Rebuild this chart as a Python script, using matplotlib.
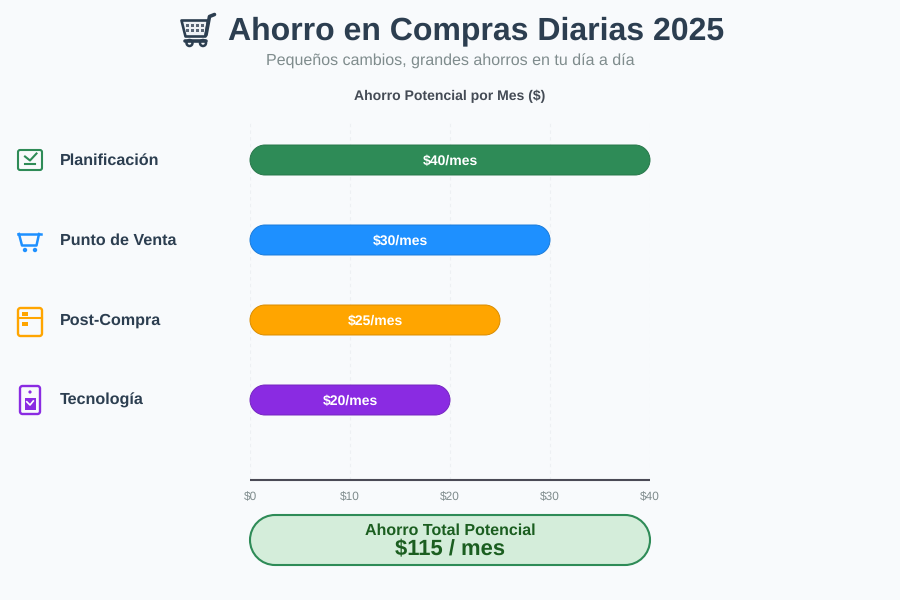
import matplotlib
matplotlib.use("Agg")
import matplotlib.pyplot as plt
from matplotlib.patches import PathPatch, Rectangle, Circle, Polygon
from matplotlib.path import Path

plt.rcParams['font.family'] = ['Liberation Sans', 'DejaVu Sans']
plt.rcParams['text.hinting'] = 'no_hinting'

categories = ["Planificación", "Punto de Venta", "Post-Compra", "Tecnología"]
savings = [40, 30, 25, 20]
bar_colors = ["#2e8b57", "#1e90ff", "#ffa500", "#8a2be2"]
edge_colors = ["#27774a", "#1a7bd9", "#d98c00", "#7525c0"]
ticks = [0, 10, 20, 30, 40]
tick_labels = ["$0", "$10", "$20", "$30", "$40"]

dark = "#2c3e50"
grey = "#7f8c8d"
bg = "#f8fafc"


def round_box(x, y, w, h, rx, ry, **kw):
    # real circular corners, the Round boxstyle looks too square
    k = 0.5523
    verts = [(x + rx, y), (x + w - rx, y),
             (x + w - rx + k * rx, y), (x + w, y + ry - k * ry), (x + w, y + ry),
             (x + w, y + h - ry),
             (x + w, y + h - ry + k * ry), (x + w - rx + k * rx, y + h), (x + w - rx, y + h),
             (x + rx, y + h),
             (x + rx - k * rx, y + h), (x, y + h - ry + k * ry), (x, y + h - ry),
             (x, y + ry),
             (x, y + ry - k * ry), (x + rx - k * rx, y), (x + rx, y),
             (x + rx, y)]
    codes = [Path.MOVETO, Path.LINETO,
             Path.CURVE4, Path.CURVE4, Path.CURVE4,
             Path.LINETO,
             Path.CURVE4, Path.CURVE4, Path.CURVE4,
             Path.LINETO,
             Path.CURVE4, Path.CURVE4, Path.CURVE4,
             Path.LINETO,
             Path.CURVE4, Path.CURVE4, Path.CURVE4,
             Path.CLOSEPOLY]
    return PathPatch(Path(verts, codes), **kw)


fig = plt.figure(figsize=(9, 6), dpi=100, facecolor=bg)

# overlay in pixel coords for title, icons and the total box
page = fig.add_axes([0, 0, 1, 1])
page.set_xlim(0, 900)
page.set_ylim(600, 0)
page.axis("off")

# chart area: x 250-650 px, y 120-480 px
ax = fig.add_axes([250 / 900, 120 / 600, 400 / 900, 360 / 600])
ax.patch.set_alpha(0)
ax.set_xlim(0, 40)
ax.set_ylim(4, -0.5)
for s in ["top", "left", "right"]:
    ax.spines[s].set_visible(False)
ax.spines["bottom"].set_color("#4a4a55")
ax.spines["bottom"].set_linewidth(1.5)
ax.spines["bottom"].set_capstyle("butt")
ax.set_yticks([])
ax.set_xticks(ticks)
ax.set_xticklabels(tick_labels, fontsize=8.6, color=grey)
ax.tick_params(axis="x", length=0, pad=8)
ax.grid(axis="x", color="#edf0f3", linewidth=0.8, linestyle=(0, (3, 3)))
ax.set_axisbelow(True)

# bars
for i, v in enumerate(savings):
    ax.add_patch(round_box(0, i - 0.1875, v, 0.375, 1.5, 0.1875,
                           facecolor=bar_colors[i], edgecolor=edge_colors[i],
                           linewidth=0.7, clip_on=False, zorder=3))
    ax.text(v / 2, i + 0.012, "$%d/mes" % v, color="white", fontsize=10.1,
            fontweight="bold", ha="center", va="center", zorder=4)

# titles
page.text(476, 31.5, "Ahorro en Compras Diarias 2025", fontsize=23, fontweight="bold",
          color=dark, ha="center", va="center")
page.text(450, 61, "Pequeños cambios, grandes ahorros en tu día a día", fontsize=11.5,
          color=grey, ha="center", va="center")
page.text(450, 96.5, "Ahorro Potencial por Mes ($)", fontsize=10.1, fontweight="bold",
          color="#444b55", ha="center", va="center")

# cart emoji
page.plot([214.5, 209.5, 206], [14.5, 16.5, 35], color=dark, lw=2.6, solid_capstyle="round")
page.add_patch(Polygon([[181.5, 20.5], [208, 20.5], [205.5, 36.5], [185.5, 36.5]], closed=True,
                       facecolor="#eef1f5", edgecolor=dark, lw=1.9, joinstyle="round"))
for x in [187, 192, 197, 202]:
    page.add_patch(Rectangle((x - 1.5, 23.5), 3.6, 3, color="#5a6675", lw=0))
    page.add_patch(Rectangle((x - 1, 28.5), 3.4, 3, color="#5a6675", lw=0))
page.plot([185, 206], [40.5, 40.5], color=dark, lw=2.6, solid_capstyle="round")
page.add_patch(Circle((189.5, 43), 3, facecolor=bg, edgecolor=dark, lw=1.8))
page.add_patch(Circle((203, 43), 3, facecolor=bg, edgecolor=dark, lw=1.8))

# category labels
for i, name in enumerate(categories):
    page.text(60, 160.5 + i * 80, name, fontsize=11.6, fontweight="bold", color=dark,
              ha="left", va="center")

# icon 1: planning
c = bar_colors[0]
page.add_patch(round_box(18, 150, 24, 20, 2, 2, facecolor="none", edgecolor=c, lw=1.5))
page.plot([25, 30, 36.5], [156.5, 160.5, 153.5], color=c, lw=1.5)
page.plot([25, 35], [164, 164], color=c, lw=1.5)

# icon 2: cart
c = bar_colors[1]
page.plot([17.5, 40.5], [234, 234], color=c, lw=1.8)
page.plot([19, 22, 36.5, 39], [234, 245.5, 245.5, 234], color=c, lw=1.8)
page.add_patch(Circle((25, 250), 2.2, color=c, lw=0))
page.add_patch(Circle((35, 250), 2.2, color=c, lw=0))

# icon 3: fridge / list
c = bar_colors[2]
page.add_patch(round_box(18, 308, 24, 28, 2.5, 2.5, facecolor="none", edgecolor=c, lw=1.7))
page.plot([18, 42], [318, 318], color=c, lw=1.5)
page.add_patch(Rectangle((22, 312), 6, 4, color=c, lw=0))
page.add_patch(Rectangle((22, 322), 6, 4, color=c, lw=0))

# icon 4: phone
c = bar_colors[3]
page.add_patch(round_box(20, 386, 20, 28, 2.5, 2.5, facecolor="none", edgecolor=c, lw=1.7))
page.add_patch(Circle((30, 392), 1.6, color=c, lw=0))
page.add_patch(Rectangle((24.5, 398), 11, 12, color=c, lw=0))
page.plot([26.8, 30, 33.3], [401.8, 405, 401], color="white", lw=1.2)

# total box
page.add_patch(round_box(250, 515, 400, 50, 25, 25, facecolor="#d4edda",
                         edgecolor="#2e8b57", lw=1.5))
page.text(450, 531, "Ahorro Total Potencial", fontsize=11.5, fontweight="bold",
          color="#1b5e20", ha="center", va="center")
page.text(450, 549, "$%d / mes" % sum(savings), fontsize=15.8, fontweight="bold",
          color="#1b5e20", ha="center", va="center")

fig.savefig("out.png", dpi=100, facecolor=bg)
